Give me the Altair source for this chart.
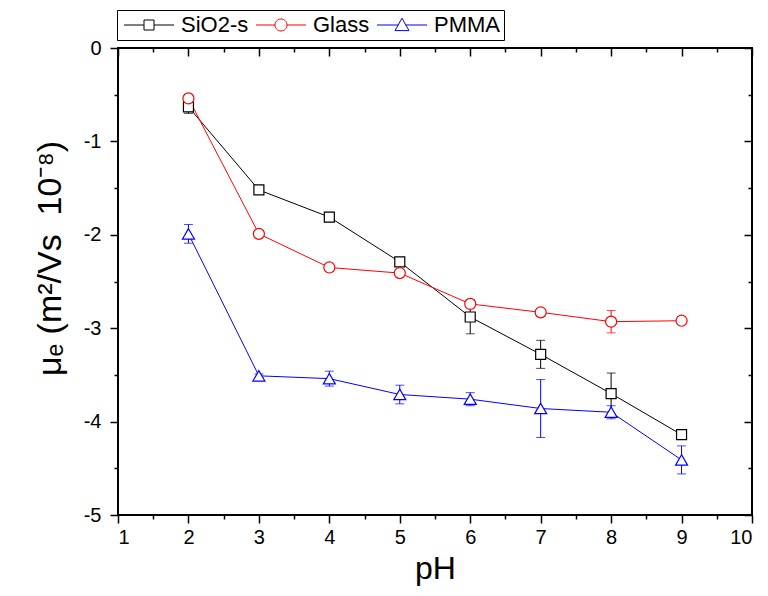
import altair as alt
import pandas as pd

ph = [2, 3, 4, 5, 6, 7, 8, 9]
series_names = ["SiO2-s", "Glass", "PMMA"]
series_colors = ["#000000", "#FF0000", "#0000FF"]
sio2 = [-0.63, -1.52, -1.81, -2.29, -2.88, -3.28, -3.70, -4.14]
sio2_err = [0.07, 0.03, 0.05, 0.03, 0.18, 0.15, 0.22, 0.04]
glass = [-0.54, -1.99, -2.35, -2.41, -2.74, -2.83, -2.93, -2.92]
glass_err = [0.04, 0.03, 0.04, 0.03, 0.04, 0.03, 0.12, 0.04]
pmma = [-1.99, -3.51, -3.54, -3.71, -3.76, -3.86, -3.90, -4.41]
pmma_err = [0.10, 0.02, 0.08, 0.10, 0.07, 0.31, 0.07, 0.15]

x_major = [1, 2, 3, 4, 5, 6, 7, 8, 9, 10]
x_minor = [1.5, 2.5, 3.5, 4.5, 5.5, 6.5, 7.5, 8.5, 9.5]
y_major = [0, -1, -2, -3, -4, -5]
y_minor = [-0.5, -1.5, -2.5, -3.5, -4.5]

rows = []
for name, vals, errs in [("SiO2-s", sio2, sio2_err), ("Glass", glass, glass_err), ("PMMA", pmma, pmma_err)]:
    for p, v, e in zip(ph, vals, errs):
        rows.append({"pH": p, "mu": v, "lo": v - e, "hi": v + e, "series": name})
df = pd.DataFrame(rows)

FONT = "Liberation Sans"
xs = alt.Scale(domain=[1, 10], nice=False, zero=False)
ys = alt.Scale(domain=[-5, 0], nice=False, zero=False)
cs = alt.Scale(domain=series_names, range=series_colors)

# legend symbols: line with marker (unit = 8px)
legend_paths = [
    "M-1 0H1.5M2.75 0H5.25M1.5 -0.625H2.75V0.625H1.5Z",
    "M-1 0H1.375M2.875 0H5.25M2.875 0A0.75 0.75 0 1 1 1.375 0A0.75 0.75 0 1 1 2.875 0",
    "M-1 0H1.645M2.605 0H5.25M2.125 -0.85L3.0 0.7L1.25 0.7Z",
]

def ax(orient, values, size, labels=False, offset=0, **kw):
    return alt.Axis(orient=orient, values=values, tickSize=size, labels=labels,
                    domain=False, grid=False, offset=offset, ticks=True,
                    tickColor="black", tickWidth=1.5, **kw)

base = alt.Chart(df)

lines = base.mark_line(strokeWidth=1).encode(
    x=alt.X("pH:Q", scale=xs, axis=ax("bottom", x_major, 8, labels=True, title="pH",
            labelFontSize=20, labelPadding=4, labelExpr="datum.value + ''",
            titleFontSize=32, titleBaseline="alphabetic", titleY=63,
            titleFontWeight="normal")),
    y=alt.Y("mu:Q", scale=ys, axis=ax("left", y_major, 8, labels=True,
            title="μₑ (m²/Vs\u00a0\u00a010⁻⁸)", labelFontSize=20, labelPadding=9,
            labelExpr="datum.value + ''",
            titleFontSize=34, titleBaseline="alphabetic", titleX=-58, titleY=210,
            titleFontWeight="normal")),
    color=alt.Color("series:N", scale=cs, legend=None),
    detail="series:N",
)

errs = base.mark_errorbar(ticks={"size": 9}, thickness=1).encode(
    x=alt.X("pH:Q", scale=xs, axis=ax("bottom", x_minor, 4, title=None)),
    y=alt.Y("lo:Q", scale=ys, axis=ax("left", y_minor, 4, title=None)),
    y2="hi:Q",
    color=alt.Color("series:N", scale=cs, legend=None),
)

points = base.mark_point(filled=True, fill="white", strokeWidth=1.2, opacity=1).encode(
    x=alt.X("pH:Q", scale=xs, axis=ax("top", x_major, 8, offset=-8, title=None)),
    y=alt.Y("mu:Q", scale=ys, axis=ax("right", y_major, 8, offset=-8, title=None)),
    stroke=alt.Stroke("series:N", scale=cs, legend=None),
    shape=alt.Shape("series:N", scale=alt.Scale(domain=series_names,
                    range=["square", "circle", "triangle-up"]), legend=None),
    size=alt.Size("series:N", scale=alt.Scale(domain=series_names, range=[100, 144, 196]),
                  legend=None),
)

legend_layer = base.mark_point(filled=False, opacity=0).encode(
    x=alt.X("pH:Q", scale=xs, axis=ax("top", x_minor, 4, offset=-4, title=None)),
    y=alt.Y("mu:Q", scale=ys, axis=ax("right", y_minor, 4, offset=-4, title=None)),
    color=alt.Color("series:N", scale=cs, legend=alt.Legend(title=None)),
    shape=alt.Shape("series:N", scale=alt.Scale(domain=series_names, range=legend_paths),
                    legend=alt.Legend(title=None)),
)

chart = alt.layer(lines, errs, points, legend_layer).resolve_scale(
    shape="independent", color="independent", size="independent", stroke="independent"
).resolve_axis(x="independent", y="independent").properties(
    width=634, height=467,
    autosize=alt.AutoSizeParams(type="none"),
    padding={"left": 110, "top": 40, "right": 8, "bottom": 73},
).configure_view(
    stroke="black", strokeWidth=2
).configure_axis(
    labelFont=FONT, titleFont=FONT, labelColor="black", titleColor="black"
).configure_legend(
    orient="none", legendX=-1, legendY=-38, direction="horizontal",
    strokeColor="black", strokeWidth=1, padding=4, fillColor="white",
    symbolSize=256, symbolStrokeWidth=1, symbolOpacity=1,
    labelFont=FONT, labelFontSize=22, labelColor="black", labelOffset=38,
    columnPadding=4, symbolType="circle",
)

chart.save("out.html", embed_options={"renderer": "svg", "actions": False})
